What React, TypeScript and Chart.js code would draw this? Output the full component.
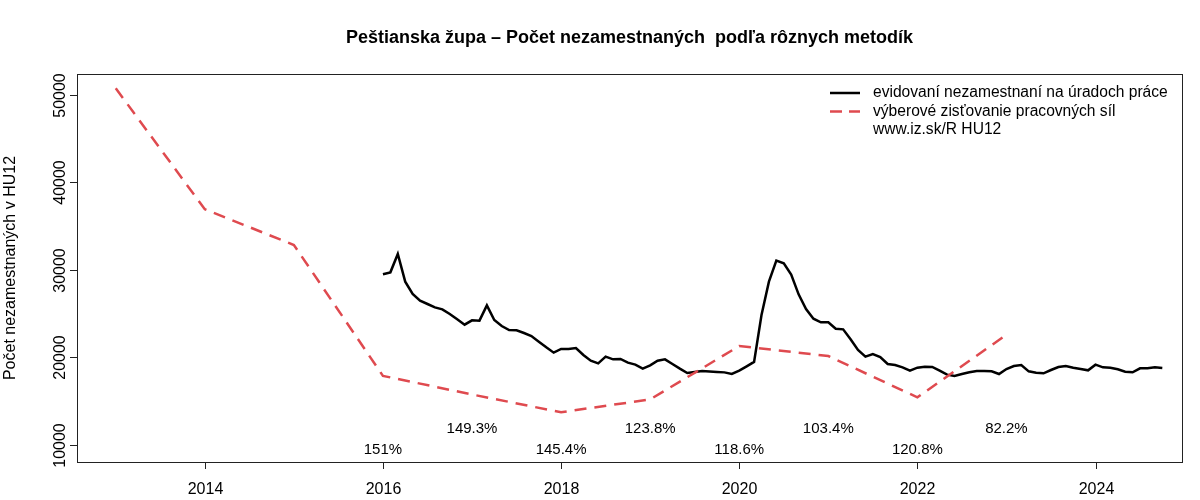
import { useEffect, useRef } from "react";
import { Chart, registerables } from "chart.js";
Chart.register(...registerables);

const TITLE = "Peštianska župa – Počet nezamestnaných  podľa rôznych metodík";
const Y_TITLE = "Počet nezamestnaných v HU12";
const LEGEND_LABELS = [
  "evidovaní nezamestnaní na úradoch práce",
  "výberové zisťovanie pracovných síl",
  "www.iz.sk/R HU12",
];

// Monthly registered unemployed, Jan 2016 .. Oct 2024
const registeredStartYear = 2016;
const registeredValues = [
  29505, 29733, 31829, 28667, 27257, 26495, 26114, 25733, 25505, 24971, 24362, 23752,
  24248, 24210, 25962, 24286, 23600, 23143, 23105, 22800, 22457, 21810, 21162, 20552,
  20971, 20971, 21086, 20286, 19638, 19333, 20095, 19790, 19830, 19410, 19181, 18724,
  19105, 19638, 19790, 19257, 18724, 18229, 18343, 18457, 18400, 18343, 18300, 18114,
  18495, 18990, 19500, 24857, 28667, 31067, 30762, 29467, 27219, 25543, 24438, 24019,
  24019, 23295, 23219, 22076, 20857, 20095, 20400, 20057, 19257, 19143, 18876, 18495,
  18838, 18952, 18914, 18495, 18038, 17886, 18114, 18305, 18457, 18457, 18419, 18114,
  18686, 19029, 19143, 18419, 18267, 18190, 18571, 18914, 19029, 18838, 18686, 18533,
  19181, 18876, 18838, 18648, 18381, 18305, 18762, 18762, 18876, 18800,
];

// Labour force survey, yearly
const surveyYears = [2013, 2014, 2015, 2016, 2017, 2018, 2019, 2020, 2021, 2022, 2023];
const surveyValues = [50770, 36940, 32860, 17900, 15770, 13740, 15210, 21310, 20170, 15450, 22600];

// Ratio labels (registered / survey)
const ratioYears = [2016, 2017, 2018, 2019, 2020, 2021, 2022, 2023];
const ratioLabels = ["151%", "149.3%", "145.4%", "123.8%", "118.6%", "103.4%", "120.8%", "82.2%"];
const ratioLowY = 9450;
const ratioHighY = 11830;

const xTicks = [2014, 2016, 2018, 2020, 2022, 2024];
const yTicks = [10000, 20000, 30000, 40000, 50000];

const X_MIN = 2012.565;
const X_MAX = 2024.971;
const Y_MIN = 8057;
const Y_MAX = 52400;

const RED = "#DF4A4F";
const FONT = '"Liberation Sans", Arial, Helvetica, sans-serif';

const registeredPoints = registeredValues.map((v, i) => ({ x: registeredStartYear + i / 12, y: v }));
const surveyPoints = surveyYears.map((yr, i) => ({ x: yr, y: surveyValues[i] }));

const decorPlugin = {
  id: "rdecor",
  afterDraw(chart: any) {
    const ctx = chart.ctx as CanvasRenderingContext2D;
    const { left, right, top, bottom } = chart.chartArea;
    const xs = chart.scales.x;
    const ys = chart.scales.y;
    ctx.save();

    // Box
    ctx.strokeStyle = "#222";
    ctx.lineWidth = 1;
    ctx.strokeRect(Math.round(left) + 0.5, Math.round(top) + 0.5, Math.round(right - left), Math.round(bottom - top));

    // X ticks
    ctx.fillStyle = "#000";
    ctx.font = `16px ${FONT}`;
    ctx.textAlign = "center";
    ctx.textBaseline = "middle";
    for (const t of xTicks) {
      const px = Math.round(xs.getPixelForValue(t)) + 0.5;
      ctx.beginPath();
      ctx.moveTo(px, Math.round(bottom));
      ctx.lineTo(px, Math.round(bottom) + 7);
      ctx.stroke();
      ctx.fillText(String(t), px, bottom + 28);
    }

    // Y ticks (rotated labels)
    for (const v of yTicks) {
      const py = Math.round(ys.getPixelForValue(v)) + 0.5;
      ctx.beginPath();
      ctx.moveTo(Math.round(left), py);
      ctx.lineTo(Math.round(left) - 7, py);
      ctx.stroke();
      ctx.save();
      ctx.translate(left - 16, py);
      ctx.rotate(-Math.PI / 2);
      ctx.fillText(String(v), 0, 0);
      ctx.restore();
    }

    // Y axis title
    ctx.save();
    ctx.translate(11, (top + bottom) / 2);
    ctx.rotate(-Math.PI / 2);
    ctx.fillText(Y_TITLE, 0, 0);
    ctx.restore();

    // Title
    ctx.font = `bold 18px ${FONT}`;
    ctx.fillText(TITLE, (left + right) / 2, 38);

    // Ratio labels
    ctx.font = `15px ${FONT}`;
    ratioYears.forEach((yr, i) => {
      const yv = i % 2 === 0 ? ratioLowY : ratioHighY;
      ctx.fillText(ratioLabels[i], xs.getPixelForValue(yr), ys.getPixelForValue(yv));
    });

    // Legend
    ctx.font = `15.6px ${FONT}`;
    ctx.textAlign = "left";
    const lx0 = 830, lx1 = 860, tx = 873;
    const rows = [93, 111.5, 130];
    ctx.lineWidth = 2.5;
    ctx.strokeStyle = "#000";
    ctx.setLineDash([]);
    ctx.beginPath();
    ctx.moveTo(lx0, rows[0]);
    ctx.lineTo(lx1, rows[0]);
    ctx.stroke();
    ctx.strokeStyle = RED;
    ctx.setLineDash([12, 7]);
    ctx.beginPath();
    ctx.moveTo(lx0, rows[1]);
    ctx.lineTo(lx1, rows[1]);
    ctx.stroke();
    ctx.setLineDash([]);
    LEGEND_LABELS.forEach((s, i) => ctx.fillText(s, tx, rows[i]));

    ctx.restore();
  },
};

export default function App() {
  const ref = useRef<HTMLCanvasElement | null>(null);
  useEffect(() => {
    document.body.style.margin = "0";
    const canvas = ref.current!;
    const chart = new Chart(canvas, {
      type: "line",
      data: {
        datasets: [
          {
            label: LEGEND_LABELS[1],
            data: surveyPoints,
            borderColor: RED,
            borderWidth: 2.5,
            borderDash: [12, 8],
            pointRadius: 0,
            tension: 0,
            fill: false,
          },
          {
            label: LEGEND_LABELS[0],
            data: registeredPoints,
            borderColor: "#000",
            borderWidth: 2.5,
            pointRadius: 0,
            tension: 0,
            fill: false,
          },
        ],
      },
      options: {
        responsive: false,
        animation: false,
        devicePixelRatio: 1,
        layout: { padding: { left: 77, right: 18, top: 74, bottom: 38 } },
        scales: {
          x: { type: "linear", min: X_MIN, max: X_MAX, display: false },
          y: { type: "linear", min: Y_MIN, max: Y_MAX, display: false },
        },
        plugins: { legend: { display: false }, title: { display: false }, tooltip: { enabled: false } },
      },
      plugins: [decorPlugin],
    });
    return () => chart.destroy();
  }, []);
  return <canvas ref={ref} width={1200} height={500} style={{ display: "block", background: "#fff" }} />;
}
